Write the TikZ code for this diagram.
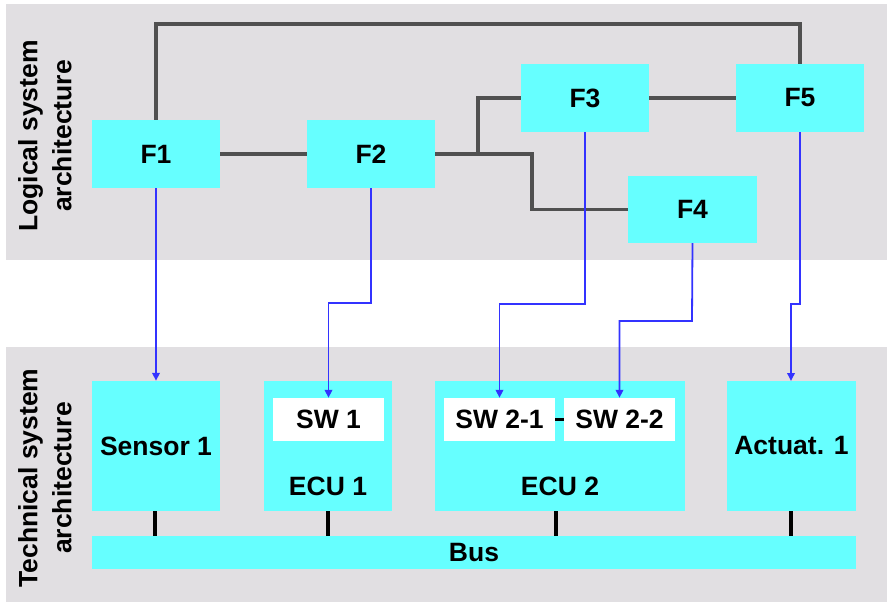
\documentclass[tikz,border=0pt]{standalone}
\usepackage{fontspec}
\setmainfont{Liberation Sans}
\usetikzlibrary{arrows.meta}
\definecolor{bandgray}{RGB}{225,223,226}
\definecolor{boxcyan}{RGB}{102,255,255}
\definecolor{linkgray}{RGB}{80,80,80}
\definecolor{mapblue}{RGB}{51,51,255}
\begin{document}
\begin{tikzpicture}[x=1pt,y=-1pt,
  every node/.style={font=\fontsize{26.5}{34}\selectfont\bfseries, inner sep=0pt, text=black},
  cbox/.style={fill=boxcyan, draw=none, rectangle, minimum width=128pt, minimum height=68pt},
  swbox/.style={fill=white, draw=none, rectangle, minimum width=111pt, minimum height=43pt},
  logic/.style={draw=linkgray, line width=3.5pt},
  mapping/.style={draw=mapblue, line width=1.8pt, -{Triangle[length=8pt,width=7.5pt]}},
  buslink/.style={draw=black, line width=4pt},
  band/.style={fill=bandgray, draw=none}]
\useasboundingbox (0,0) rectangle (887,603);
\fill[white] (0,0) rectangle (887,603);
% bands
\fill[band] (6,4) rectangle (887,260);
\fill[band] (6,347) rectangle (887,602);
% side labels
\node[rotate=90, align=center] (Llog) at (45,136) {Logical system\\architecture};
\node[rotate=90, align=center] (Ltech) at (45,478) {Technical system\\architecture};
% logical functions
\node[cbox] (F1) at (156,154) {F1};
\node[cbox] (F2) at (371,154) {F2};
\node[cbox] (F3) at (585,98) {F3};
\node[cbox] (F5) at (800,98) {F5};
\node[cbox, minimum width=129pt, minimum height=67pt] (F4) at (692.5,209.5) {F4};
% technical blocks
\node[cbox, minimum height=130pt] (S1) at (156,446) {Sensor 1};
\node[cbox, minimum height=130pt] (E1) at (328,446) {};
\node[cbox, minimum width=250pt, minimum height=130pt] (E2) at (560,446) {};
\node[cbox, minimum width=129pt, minimum height=130pt] (A1) at (791.5,446) {Actuat. 1};
\node[swbox] (SW1) at (328.5,419.5) {SW 1};
\node[swbox] (SW21) at (499.5,419.5) {SW 2-1};
\node[swbox] (SW22) at (619.5,419.5) {SW 2-2};
\node (E1l) at (328,486) {ECU 1};
\node (E2l) at (560,486) {ECU 2};
\node[cbox, minimum width=764pt, minimum height=33pt] (Bus) at (474,552.5) {Bus};
% logical links
\coordinate (J) at (478,154);
\draw[logic] (F1.north) -- (F1.north |- 0,24) -- (F5.north |- 0,24) -- (F5.north);
\draw[logic] (F1.east) -- (F2.west);
\draw[logic] (F2.east) -- (J) |- (F3.west);
\draw[logic] (J) -- (532,154) |- (F4.west);
\draw[logic] (F3.east) -- (F5.west);
% SW link
\draw[draw=black, line width=3pt] (SW21.east) -- (SW22.west);
% mappings
\draw[mapping] (F1.south) -- (S1.north);
\draw[mapping] (F2.south) -- (371,303) -| (SW1.north);
\draw[mapping] (F3.south) -- (585,304) -| (SW21.north);
\draw[mapping] (F4.south |- 0,243) -- (692,321) -| (SW22.north);
\draw[mapping] (F5.south) -- (800,304) -- (791,304) -- (791,381);
% bus links
\draw[buslink] (155,511) -- (155,536);
\draw[buslink] (328,511) -- (328,536);
\draw[buslink] (556,511) -- (556,536);
\draw[buslink] (791,511) -- (791,536);
\end{tikzpicture}
\end{document}
